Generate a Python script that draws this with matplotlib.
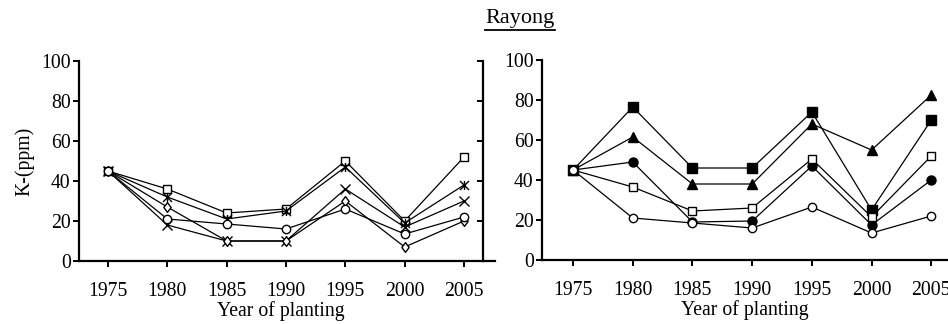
import matplotlib
matplotlib.use("Agg")
import matplotlib.pyplot as plt
from matplotlib.lines import Line2D
from matplotlib.path import Path

plt.rcParams['font.family'] = ['Liberation Serif', 'DejaVu Serif']
plt.rcParams['font.size'] = 14.2

years = [1975, 1980, 1985, 1990, 1995, 2000, 2005]
yticks = [0, 20, 40, 60, 80, 100]

# left panel
left_square = [45, 36, 24, 26, 50, 20, 52]
left_star = [45, 32, 21, 25, 47, 19, 38]
left_x = [45, 18, 10, 10, 36, 17, 30]
left_diamond = [45, 27, 10, 10, 30, 7, 20]
left_circle = [45, 21, 18.5, 16, 26, 13.5, 22]

# right panel
right_fsquare = [45, 76.5, 46, 46, 74, 25, 70]
right_triangle = [45, 61.5, 38, 38, 68, 55, 82.5]
right_fcircle = [45, 49, 19, 19.5, 47, 17.5, 40]
right_square = [45, 36.5, 24.5, 26, 50.5, 21.5, 52]
right_circle = [45, 21, 18.5, 16, 26.5, 13.5, 22]

# X with a vertical bar through it
star_mark = Path([(-1, -1), (1, 1), (-1, 1), (1, -1), (0, -1), (0, 1)],
                 [Path.MOVETO, Path.LINETO, Path.MOVETO, Path.LINETO, Path.MOVETO, Path.LINETO])
diamond_mark = Path([(0, 1), (0.75, 0), (0, -1), (-0.75, 0), (0, 1)],
                    [Path.MOVETO, Path.LINETO, Path.LINETO, Path.LINETO, Path.CLOSEPOLY])

W, H = 948, 324
fig = plt.figure(figsize=(W / 100, H / 100), dpi=100)

ax1 = fig.add_axes([79 / W, 1 - 261 / H, (483 - 79) / W, 200 / H])
ax2 = fig.add_axes([542 / W, 1 - 260 / H, (W - 542) / W, 200 / H])

lk = dict(color='k', linewidth=0.9, markeredgecolor='k', markeredgewidth=1.0)

ax1.plot(years, left_square, marker='s', markersize=6, markerfacecolor='white', **lk)
ax1.plot(years, left_star, marker=star_mark, markersize=6.5, **lk)
ax1.plot(years, left_x, marker='x', markersize=7, **lk)
ax1.plot(years, left_diamond, marker=diamond_mark, markersize=7, markerfacecolor='white', **lk)
ax1.plot(years, left_circle, marker='o', markersize=6, markerfacecolor='white', **lk)

ax2.plot(years, right_fsquare, marker='s', markersize=7, markerfacecolor='k', **lk)
ax2.plot(years, right_triangle, marker='^', markersize=6.5, markerfacecolor='k', **lk)
ax2.plot(years, right_fcircle, marker='o', markersize=6.5, markerfacecolor='k', **lk)
ax2.plot(years, right_square, marker='s', markersize=6, markerfacecolor='white', **lk)
ax2.plot(years, right_circle, marker='o', markersize=6, markerfacecolor='white', **lk)

for ax in (ax1, ax2):
    ax.set_ylim(0, 100)
    ax.set_yticks(yticks)
    ax.set_xticks(years)
    ax.spines['top'].set_visible(False)
    for s in ax.spines.values():
        s.set_linewidth(1.6)
    ax.tick_params(direction='out', length=4, width=1.4, pad=2)
    ax.tick_params(axis='x', pad=11)
    ax.set_xlabel('Year of planting', labelpad=0)
    ax.patch.set_alpha(0)

ax1.set_xlim(1972.56, 2006.6)
ax2.set_xlim(1972.4, 2006.4)
ax2.spines['right'].set_visible(False)
ax1.yaxis.set_tick_params(which='major', right=True, labelright=False)
for t in ax1.yaxis.get_major_ticks():
    t.tick2line.set_marker(0)
    t.tick2line.set_markersize(4)
ax1.plot([1, 1.03], [0, 0], transform=ax1.transAxes, color='k',
         linewidth=1.6, clip_on=False)
ax1.set_ylabel('K-(ppm)', labelpad=5)

ttl = fig.text(520 / W, 1 - 19 / H, 'Rayong', ha='center', va='center', fontsize=16)
fig.canvas.draw()
bb = ttl.get_window_extent()
fig.add_artist(Line2D([bb.x0 / W, bb.x1 / W], [(bb.y0 - 1) / H, (bb.y0 - 1) / H],
                      color='k', linewidth=1.3))

fig.savefig('out.png', dpi=100)
